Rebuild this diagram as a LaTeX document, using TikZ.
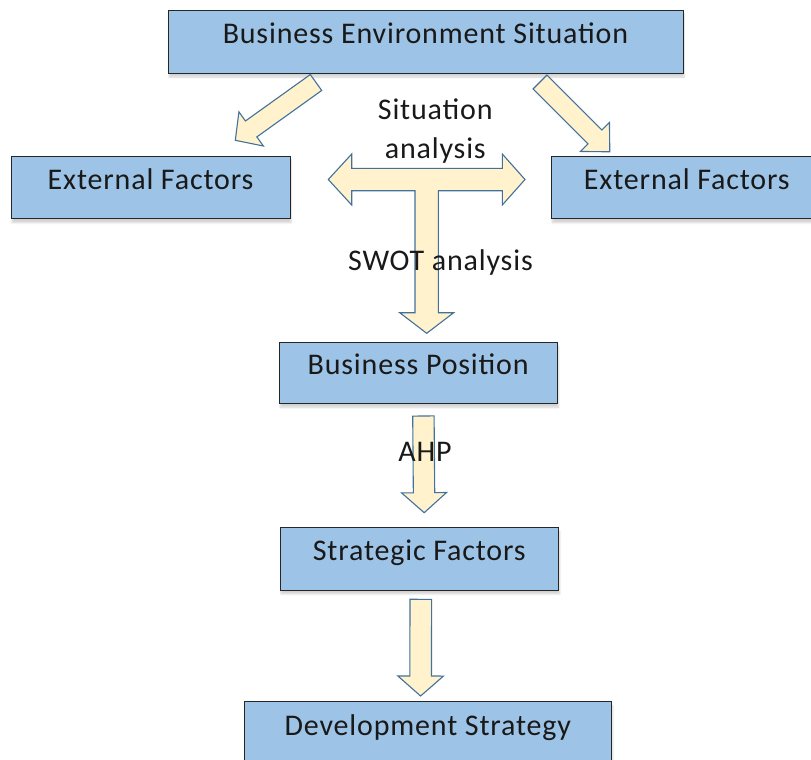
\documentclass[tikz,border=0pt]{standalone}
\usepackage{fontspec}
\setmainfont{Carlito}[LetterSpace=2.8]
\usetikzlibrary{calc,shadows.blur}
\definecolor{boxfill}{HTML}{9DC3E6}
\definecolor{boxline}{HTML}{262626}
\definecolor{arrfill}{HTML}{FFF2CC}
\definecolor{arrline}{HTML}{41719C}
\newcommand\fatarrowdraw[5]{%
  \coordinate (fa-b) at ($(#2)!#5!(#1)$);
  \draw[fatarrow] ($(#1)!#3!90:(#2)$) -- ($(fa-b)!#3!90:(#2)$) -- ($(fa-b)!#4!90:(#2)$)
    -- (#2) -- ($(fa-b)!#4!-90:(#2)$) -- ($(fa-b)!#3!-90:(#2)$) -- ($(#1)!#3!-90:(#2)$) -- cycle;
}
\begin{document}
\begin{tikzpicture}[x=1pt,y=-1pt,
  box/.style={draw=boxline, line width=0.9pt, fill=boxfill, inner sep=0pt,
    text height=12pt, text depth=8pt, font=\fontsize{30}{36}\selectfont, text=black!90,
    blur shadow={shadow xshift=1pt, shadow yshift=-4pt, shadow opacity=18, shadow blur steps=8}},
  fatarrow/.style={draw=arrline, line width=1.1pt, fill=arrfill, line join=miter},
  lbl/.style={font=\fontsize{30}{39}\selectfont, text=black!90, inner sep=0pt, align=center}]
\useasboundingbox (0,0) rectangle (811,760);
\clip (0,0) rectangle (811,760);
% boxes
\node[box, minimum width=515pt, minimum height=63pt] (top) at (425.5,41.5) {Business Environment Situation};
\node[box, minimum width=279pt, minimum height=62.7pt] (extl) at (150.5,187.3) {External Factors};
\node[box, minimum width=271pt, minimum height=62.7pt] (extr) at (686.8,187.3) {External Factors};
\node[box, minimum width=278.3pt, minimum height=61.3pt] (bpos) at (418.2,372.7) {Business Position};
\node[box, minimum width=278.7pt, minimum height=62.3pt] (strat) at (419.3,558.8) {Strategic Factors};
\node[box, minimum width=367.7pt, minimum height=63pt] (dev) at (427.8,733.2) {Development Strategy};
% arrow end points
\coordinate (al-s) at (316,82.5);
\coordinate (al-e) at (235.3,140.3);
\coordinate (ar-s) at (540,82);
\coordinate (ar-e) at (609.8,151.8);
\coordinate (ahp-s) at (423.4,416);
\coordinate (ahp-e) at (424.2,512.7);
\coordinate (low-s) at (420.8,599.3);
\coordinate (low-e) at (420.6,696);
% diagonal arrows
\fatarrowdraw{al-s}{al-e}{9.8pt}{21pt}{19.5pt}
\fatarrowdraw{ar-s}{ar-e}{9.8pt}{20.5pt}{21pt}
% vertical arrows
\fatarrowdraw{ahp-s}{ahp-e}{10.7pt}{22.5pt}{20pt}
\fatarrowdraw{low-s}{low-e}{10.8pt}{22.8pt}{20pt}
% T-shaped arrow
\coordinate (tl) at (328.3,179.5);
\coordinate (tr) at (525,179.5);
\coordinate (tb) at (426.7,333.3);
\draw[fatarrow] (351.7,168.3) -- (351.7,154) -- (tl) -- (351.7,205) -- (351.7,190.7)
  -- (415,190.7) -- (415,312.7) -- (399.7,312.7) -- (tb) -- (453.7,312.7) -- (438.3,312.7)
  -- (438.3,190.7) -- (502.3,190.7) -- (502.3,205) -- (tr) -- (502.3,154) -- (502.3,168.3) -- cycle;
% labels
\node[lbl, anchor=base] (sitlbl) at (435.3,158.3) {Situation\\analysis};
\node[lbl, anchor=base] (swotlbl) at (440.5,270) {SWOT analysis};
\node[lbl, anchor=base] (ahplbl) at (425,461.7) {AHP};
\end{tikzpicture}
\end{document}
